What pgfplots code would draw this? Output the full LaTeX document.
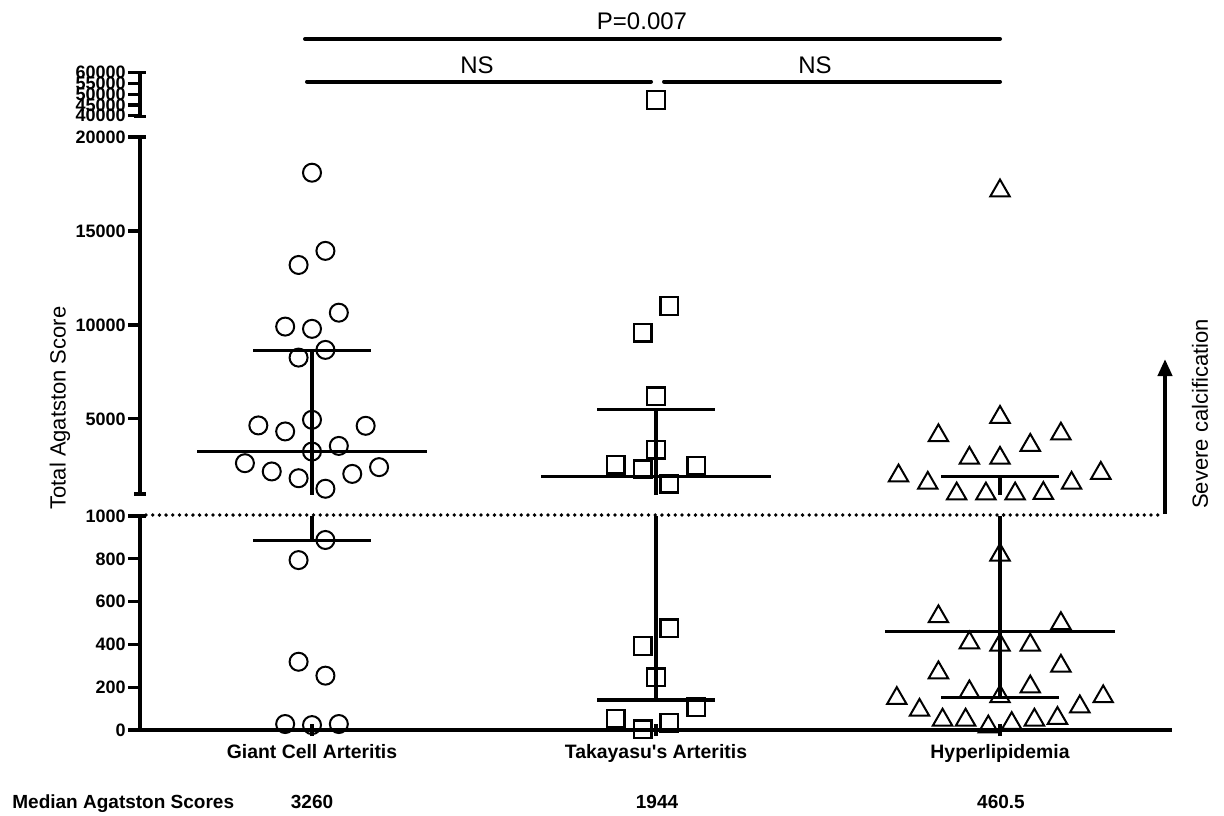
\documentclass[border=0pt]{standalone}
\usepackage{pgfplots}
\pgfplotsset{compat=1.18}
\usepackage{fontspec}
\setmainfont{Liberation Sans}
\usetikzlibrary{arrows.meta}

\pgfplotsset{
 seg/.style={scale only axis, width=516pt, xmin=0.5, xmax=3.5, anchor=south west,
   axis y line=left, tick align=outside, scaled y ticks=false,
   major tick length=6pt, tick style={line width=1.6pt, black},
   clip mode=individual,
   yticklabel style={font=\bfseries\fontsize{9}{10}\selectfont, inner sep=1pt},
 },
 gca/.style={only marks, mark=o, mark size=4.5pt, mark options={line width=1pt}, black},
 ta/.style={only marks, mark=square, mark size=4.4pt, mark options={line width=1.2pt}, black},
 hl/.style={only marks, mark=triangle, mark size=5.6pt, mark options={line width=1pt}, black},
 bar/.style={black, line width=1.6pt, no marks},
}
\newcommand{\whiskers}{%
 % Giant Cell Arteritis: median 3260, IQR 885 - 8654
 \addplot[bar] coordinates {(0.666,3260) (1.334,3260)};
 \addplot[bar] coordinates {(0.829,885) (1.171,885)};
 \addplot[bar] coordinates {(0.829,8654) (1.171,8654)};
 \addplot[bar] coordinates {(1,885) (1,8654)};
 % Takayasu's Arteritis: median 1944, IQR 140 - 5480
 \addplot[bar] coordinates {(1.666,1944) (2.334,1944)};
 \addplot[bar] coordinates {(1.829,140) (2.171,140)};
 \addplot[bar] coordinates {(1.829,5480) (2.171,5480)};
 \addplot[bar] coordinates {(2,140) (2,5480)};
 % Hyperlipidemia: median 460.5, IQR 153 - 1931
 \addplot[bar] coordinates {(2.666,460.5) (3.334,460.5)};
 \addplot[bar] coordinates {(2.829,153) (3.171,153)};
 \addplot[bar] coordinates {(2.829,1931) (3.171,1931)};
 \addplot[bar] coordinates {(3,153) (3,1931)};
}

\begin{document}
\begin{tikzpicture}
\begin{scope}[x=0.5pt,y=-0.5pt]
\path[use as bounding box] (0,0) rectangle (1224,815);
\end{scope}

% ---------- lower segment 0 - 1000 ----------
\begin{axis}[seg, at={(70pt,-365pt)}, height=107pt, ymin=0, ymax=1000,
  ytick={0,200,400,600,800,1000}, yticklabels={0,200,400,600,800,1000},
  axis x line=bottom, axis line style={-, line width=2pt},
  x axis line style={-}, y axis line style={-},
  xtick={1,2,3},
  xticklabels={Giant Cell Arteritis,Takayasu\textquotesingle s Arteritis,Hyperlipidemia},
  xticklabel style={font=\bfseries\fontsize{9.7}{11}\selectfont, yshift=-0.5pt}]
\whiskers
\addplot[gca] coordinates {(1.039,888) (0.961,794) (0.961,319) (1.039,254) (0.922,28) (1.000,23) (1.078,28)};
\addplot[ta] coordinates {(2.039,475) (1.961,393) (2.000,246) (2.117,106) (1.883,53) (2.039,34) (1.961,3)};
\addplot[hl] coordinates {(3.000,818) (2.821,530) (3.177,498) (2.911,408) (3.000,397) (3.088,397)
  (2.821,268) (3.177,299) (2.911,179) (3.000,156) (3.088,202) (2.700,148) (3.300,156)
  (2.766,93) (3.232,109) (2.833,47) (2.900,47) (3.034,31) (3.100,47) (3.167,55) (2.966,15)};
\end{axis}

% ---------- middle segment 1000 - 20000 ----------
\begin{axis}[seg, at={(70pt,-247pt)}, height=178.5pt, ymin=1000, ymax=20000,
  ytick={5000,10000,15000,20000}, yticklabels={5000,10000,15000,20000},
  axis x line=none, xtick=\empty, axis line style={-, line width=2pt}, y axis line style={-}]
\whiskers
\addplot[gca] coordinates {(1.000,18100) (1.039,13940) (0.961,13190) (1.078,10650) (0.922,9910)
  (1.000,9790) (1.039,8670) (0.961,8260) (0.844,4650) (0.922,4330) (1.000,4950) (1.156,4630)
  (1.078,3560) (1.000,3260) (0.805,2640) (0.883,2200) (0.961,1840) (1.117,2070) (1.195,2430) (1.039,1280)};
\addplot[ta] coordinates {(2.039,11010) (1.961,9590) (2.000,6190) (2.000,3350) (1.883,2550)
  (1.961,2320) (2.117,2500) (2.039,1540)};
\addplot[hl] coordinates {(3.000,17140) (3.000,5090) (2.821,4110) (3.177,4200) (3.088,3600)
  (2.911,2910) (3.000,2910) (2.705,1970) (3.293,2110) (2.790,1580) (3.208,1580)
  (2.874,1010) (2.959,1010) (3.044,1010) (3.126,1040)};
\end{axis}

% ---------- top segment 40000 - 60000 ----------
\begin{axis}[seg, at={(70pt,-57.85pt)}, height=21.5pt, ymin=40000, ymax=60000,
  ytick={40000,45000,50000,55000,60000}, yticklabels={40000,45000,50000,55000,60000},
  axis x line=none, xtick=\empty, axis line style={-, line width=2pt}, y axis line style={-}]
\addplot[ta] coordinates {(2.000,47300)};
\end{axis}

\begin{scope}[x=0.5pt,y=-0.5pt]
% break caps on the y axis
\draw[line width=1.6pt] (134,116.5) -- (146,116.5);
\draw[line width=1.6pt] (140,72.7) -- (146,72.7);
\draw[line width=1.6pt] (140,137) -- (146,137);
\draw[line width=1.6pt] (134,494) -- (146,494);
\draw[line width=1.6pt] (140,516) -- (146,516);
% threshold line at 1000
\draw[line width=1.9pt, line cap=round, dash pattern=on 0pt off 3.35pt] (146,515) -- (1162,515);
% significance brackets
\draw[line width=2pt, line cap=round] (305,39) -- (1000,39);
\draw[line width=2pt, line cap=round] (307,81.5) -- (651,81.5);
\draw[line width=2pt, line cap=round] (664,81.5) -- (1000,81.5);
\node[font=\fontsize{12}{14}\selectfont] at (642,21) {P=0.007};
\node[font=\fontsize{12}{14}\selectfont] at (477,65) {NS};
\node[font=\fontsize{12}{14}\selectfont] at (815,65) {NS};
% y label
\node[rotate=90, font=\fontsize{11}{13}\selectfont] at (60,408) {Total Agatston Score};
% severe calcification arrow
\draw[line width=2pt, -{Triangle[length=8.5pt,width=7pt]}] (1165,514) -- (1165,359);
\node[rotate=90, font=\fontsize{11}{13}\selectfont] at (1200,414) {Severe calcification};
% median row
\node[anchor=base west, font=\bfseries\fontsize{9.5}{11}\selectfont, inner sep=0pt] at (12,808) {Median Agatston Scores};
\node[anchor=base, inner sep=0pt, font=\bfseries\fontsize{9.5}{11}\selectfont] at (312,808) {3260};
\node[anchor=base, inner sep=0pt, font=\bfseries\fontsize{9.5}{11}\selectfont] at (657,808) {1944};
\node[anchor=base, inner sep=0pt, font=\bfseries\fontsize{9.5}{11}\selectfont] at (1001,808) {460.5};
\end{scope}
\end{tikzpicture}
\end{document}
